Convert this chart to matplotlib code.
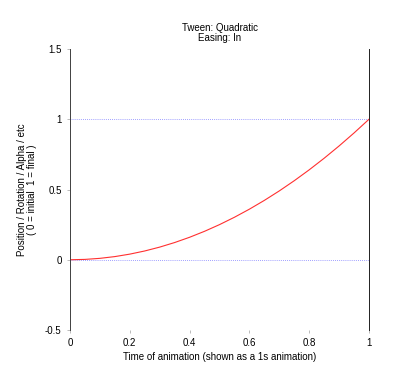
import matplotlib
matplotlib.use('Agg')
import matplotlib.pyplot as plt

plt.rcParams['font.family'] = ['Liberation Sans', 'DejaVu Sans']

# values
time_x = [0.0, 0.05, 0.1, 0.15, 0.2, 0.25, 0.3, 0.35, 0.4, 0.45, 0.5,
          0.55, 0.6, 0.65, 0.7, 0.75, 0.8, 0.85, 0.9, 0.95, 1.0]
value_y = [0.0, 0.0025, 0.01, 0.0225, 0.04, 0.0625, 0.09, 0.1225, 0.16, 0.2025, 0.25,
           0.3025, 0.36, 0.4225, 0.49, 0.5625, 0.64, 0.7225, 0.81, 0.9025, 1.0]
ref_lines = [0, 1]
x_ticks = [0, 0.2, 0.4, 0.6, 0.8, 1]
x_labels = ['0', '0.2', '0.4', '0.6', '0.8', '1']
y_ticks = [-0.5, 0, 0.5, 1, 1.5]
y_labels = ['-0.5', '0', '0.5', '1', '1.5']

fig = plt.figure(figsize=(3.95, 3.7), dpi=100)
ax = fig.add_axes([70/395, 40/370, 299/395, 281/370])

for v in ref_lines:
    ax.axhline(v, color='#8080ff', lw=0.6, ls=(0, (1, 1.5)))
ax.plot(time_x, value_y, color='#ff3030', lw=0.8)
ax.axvline(1, color='#202020', lw=0.7, clip_on=False)

ax.set_xlim(0, 1)
ax.set_ylim(-0.5, 1.5)
ax.set_xticks(x_ticks)
ax.set_xticklabels(x_labels)
ax.set_yticks(y_ticks)
ax.set_yticklabels(y_labels)

for s in ['top', 'bottom', 'right']:
    ax.spines[s].set_visible(False)
ax.spines['left'].set_color('#404040')
ax.spines['left'].set_linewidth(0.7)
ax.tick_params(axis='both', length=2, width=0.5, color='#a0a0a0', labelsize=7, pad=4)

ax.set_title('Tween: Quadratic\nEasing: In', fontsize=7, linespacing=1.0, pad=6)
ax.set_xlabel('Time of animation (shown as a 1s animation)', fontsize=7, labelpad=3)
ax.set_ylabel('Position / Rotation / Alpha / etc\n( 0 = initial  1 = final )', fontsize=7,
              linespacing=1.0, labelpad=6)

fig.savefig('out.png', dpi=100)
